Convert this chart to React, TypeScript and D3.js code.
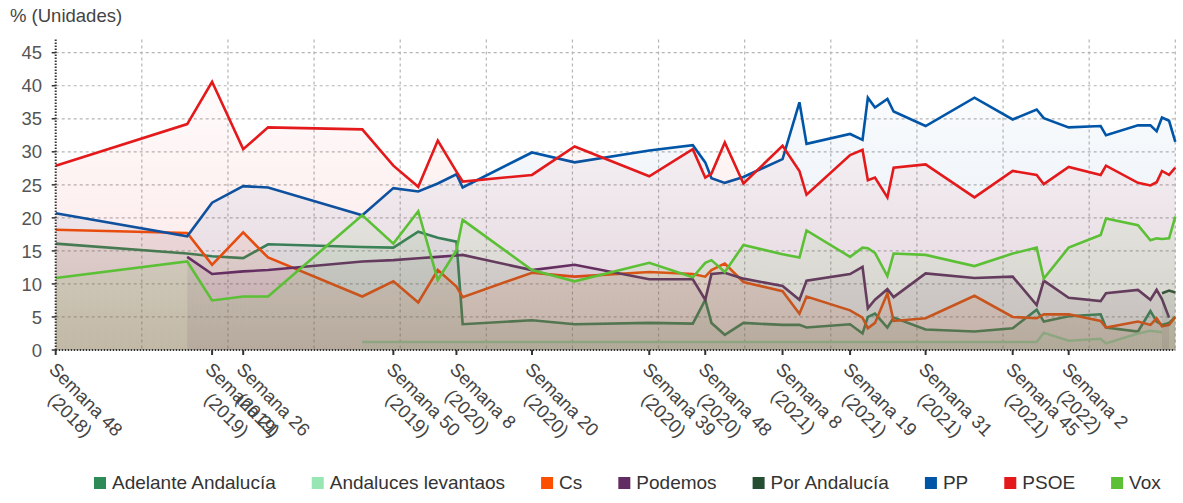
import React, { useEffect, useRef } from 'react';
import * as d3 from 'd3';

// fechas de las encuestas (una por vértice)
const fechas = [
  '2018-11-26', '2019-04-23', '2019-05-21', '2019-06-25', '2019-07-23', '2019-11-06',
  '2019-12-11', '2020-01-08', '2020-01-30', '2020-02-20', '2020-02-27', '2020-05-15',
  '2020-07-02', '2020-09-24', '2020-11-12', '2020-11-26', '2020-12-03', '2020-12-18',
  '2021-01-08', '2021-02-21', '2021-03-12', '2021-03-20', '2021-05-08', '2021-05-22',
  '2021-05-28', '2021-06-05', '2021-06-19', '2021-06-26', '2021-08-01', '2021-09-25',
  '2021-11-07', '2021-12-04', '2021-12-12', '2022-01-09', '2022-02-14', '2022-02-20',
  '2022-03-28', '2022-04-11', '2022-04-18', '2022-04-24', '2022-05-02', '2022-05-09',
];

const adelanteAndalucia = [
  16.1, 14.6, 14.2, 13.9, 16.0, 15.6, 15.5, 17.9, 17.0, 16.4,
  3.9, 4.5, 3.9, 4.1, 4.0, 7.6, 4.1, 2.3, 4.1, 3.8,
  3.8, 3.4, 3.9, 2.5, 5.0, 5.5, 3.4, 4.9, 3.1, 2.8,
  3.3, 6.1, 4.3, 5.1, 5.4, 3.4, 2.8, 5.9, 4.3, 3.8,
  4.1, 5.0,
];
const andalucesLevantaos = [
  null, null, null, null, null, 1.2, 1.2, 1.2, 1.2, 1.2,
  1.2, 1.2, 1.2, 1.2, 1.2, 1.2, 1.2, 1.2, 1.2, 1.2,
  1.2, 1.2, 1.2, 1.2, 1.2, 1.2, 1.2, 1.2, 1.2, 1.2,
  1.2, 1.2, 2.6, 1.4, 1.7, 1.0, 2.5, 2.9, 2.8, 2.7,
  null, null,
];
const cs = [
  18.2, 17.7, 12.9, 17.8, 14.0, 8.1, 10.4, 7.2, 12.1, 9.6,
  8.0, 11.7, 11.1, 11.8, 11.5, 11.1, 12.1, 13.1, 10.3, 8.9,
  5.5, 8.1, 6.0, 4.9, 3.3, 4.1, 8.6, 4.4, 4.8, 8.2,
  5.0, 4.8, 5.4, 5.4, 4.4, 3.4, 4.3, 3.8, 4.8, 3.6,
  3.8, 5.0,
];
const podemos = [
  null, 14.1, 11.5, 11.9, 12.1, 13.4, 13.6, 13.9, 14.1, 14.3,
  14.4, 12.1, 12.9, 10.7, 10.7, 7.6, 11.5, 11.7, 10.8, 9.7,
  7.6, 10.5, 11.5, 12.6, 6.3, 7.6, 9.2, 8.0, 11.6, 10.9,
  11.1, 6.8, 10.5, 7.9, 7.4, 8.6, 9.1, 7.6, 9.1, 7.7,
  4.9, null,
];
const porAndalucia = [
  null, null, null, null, null, null, null, null, null, null,
  null, null, null, null, null, null, null, null, null, null,
  null, null, null, null, null, null, null, null, null, null,
  null, null, null, null, null, null, null, null, null, 8.6,
  9.0, 8.7,
];
const pp = [
  20.7, 17.2, 22.3, 24.8, 24.6, 20.4, 24.5, 24.0, 25.2, 26.6,
  24.6, 29.9, 28.4, 30.2, 31.0, 28.4, 26.0, 25.3, 26.2, 28.9,
  37.5, 31.2, 32.7, 31.8, 38.2, 36.7, 38.0, 36.1, 33.9, 38.2,
  34.9, 36.4, 35.1, 33.7, 33.9, 32.5, 34.0, 34.0, 33.1, 35.2,
  34.7, 31.5,
];
const psoe = [
  27.9, 34.2, 40.6, 30.4, 33.7, 33.4, 27.9, 24.7, 31.7, 27.0,
  25.5, 26.5, 30.8, 26.3, 30.4, 26.1, 26.7, 31.4, 25.2, 30.9,
  27.1, 23.5, 29.5, 30.3, 25.7, 26.1, 23.1, 27.6, 28.1, 23.1,
  27.1, 26.5, 25.1, 27.7, 26.5, 27.9, 25.3, 24.9, 25.4, 27.1,
  26.5, 27.6,
];
const vox = [
  10.9, 13.4, 7.5, 8.1, 8.1, 20.4, 16.1, 21.0, 10.6, 15.1,
  19.7, 12.1, 10.4, 13.2, 11.0, 13.2, 13.6, 11.8, 15.9, 14.5,
  14.0, 18.1, 14.1, 15.5, 15.4, 14.7, 11.2, 14.6, 14.4, 12.7,
  14.6, 15.5, 10.8, 15.5, 17.4, 19.9, 18.9, 16.6, 16.9, 16.8,
  16.9, 20.2,
];

const nombres = ['Adelante Andalucía', 'Andaluces levantaos', 'Cs', 'Podemos', 'Por Andalucía', 'PP', 'PSOE', 'Vox'];
const colores = ['#2e8b57', '#98e6b3', '#fa5000', '#612d62', '#254d32', '#0055a7', '#e3191b', '#5bc035'];
const valores = [adelanteAndalucia, andalucesLevantaos, cs, podemos, porAndalucia, pp, psoe, vox];

const ticksFechas = [
  '2018-11-26', '2019-05-21', '2019-06-25', '2019-12-11', '2020-02-20', '2020-05-15', '2020-09-24',
  '2020-11-26', '2021-02-21', '2021-05-08', '2021-08-01', '2021-11-07', '2022-01-09',
];
const ticksSemana = [
  'Semana 48', 'Semana 21', 'Semana 26', 'Semana 50', 'Semana 8', 'Semana 20', 'Semana 39',
  'Semana 48', 'Semana 8', 'Semana 19', 'Semana 31', 'Semana 45', 'Semana 2',
];
const ticksAnio = [
  '(2018)', '(2019)', '(2019)', '(2019)', '(2020)', '(2020)', '(2020)',
  '(2020)', '(2021)', '(2021)', '(2021)', '(2021)', '(2022)',
];
const ticksY = [0, 5, 10, 15, 20, 25, 30, 35, 40, 45];

const W = 1183;
const H = 503;
const FONT = '"Liberation Sans", Arial, sans-serif';

type Punto = { fecha: Date; v: number | null };

const App: React.FC = () => {
  const svgRef = useRef<SVGSVGElement | null>(null);

  useEffect(() => {
    if (!svgRef.current) return;
    const svg = d3.select(svgRef.current);
    svg.selectAll('*').remove();

    const parse = d3.timeParse('%Y-%m-%d');
    const left = 55.7;
    const right = 1175.3;
    const bottom = 350;
    const top = 39.5;

    const x = d3
      .scaleTime()
      .domain([parse('2018-11-26') as Date, parse('2022-05-09') as Date])
      .range([left, right]);
    const y = d3.scaleLinear().domain([0, 47]).range([bottom, top]);

    svg.append('rect').attr('width', W).attr('height', H).attr('fill', '#fff');

    const defs = svg.append('defs');
    colores.forEach((c, i) => {
      const g = defs
        .append('linearGradient')
        .attr('id', `relleno${i}`)
        .attr('gradientUnits', 'userSpaceOnUse')
        .attr('x1', 0).attr('x2', 0)
        .attr('y1', top).attr('y2', bottom);
      g.append('stop').attr('offset', 0).attr('stop-color', c).attr('stop-opacity', 0);
      g.append('stop').attr('offset', 1).attr('stop-color', c).attr('stop-opacity', 0.12);
    });

    // rejilla
    const grid = svg.append('g');
    grid.selectAll('line.h')
      .data(ticksY.filter((t) => t > 0))
      .join('line')
      .attr('x1', left).attr('x2', right)
      .attr('y1', (d) => y(d)).attr('y2', (d) => y(d))
      .attr('stroke', '#b5b5b5').attr('stroke-width', 1.2)
      .attr('stroke-dasharray', '3,3');
    grid.selectAll('line.v')
      .data(d3.range(1, 14))
      .join('line')
      .attr('x1', (i) => left + (i * (right - left)) / 13)
      .attr('x2', (i) => left + (i * (right - left)) / 13)
      .attr('y1', top).attr('y2', bottom)
      .attr('stroke', '#b5b5b5').attr('stroke-width', 1.2)
      .attr('stroke-dasharray', '3,3');

    const area = d3
      .area<Punto>()
      .defined((d) => d.v != null)
      .x((d) => x(d.fecha))
      .y0(y(0))
      .y1((d) => y(d.v as number));
    const linea = d3
      .line<Punto>()
      .defined((d) => d.v != null)
      .x((d) => x(d.fecha))
      .y((d) => y(d.v as number));

    const capa = svg.append('g');
    valores.forEach((vals, i) => {
      const pts: Punto[] = fechas.map((f, j) => ({ fecha: parse(f) as Date, v: vals[j] }));
      capa.append('path').datum(pts).attr('d', area).attr('fill', `url(#relleno${i})`);
      capa.append('path').datum(pts).attr('d', linea)
        .attr('fill', 'none')
        .attr('stroke', colores[i])
        .attr('stroke-width', 2.6);
    });

    // ejes
    svg.append('line')
      .attr('x1', left).attr('x2', left).attr('y1', top).attr('y2', bottom + 1)
      .attr('stroke', '#333').attr('stroke-width', 2).attr('stroke-dasharray', '1.5,1.5');
    svg.append('line')
      .attr('x1', left).attr('x2', right).attr('y1', bottom).attr('y2', bottom)
      .attr('stroke', '#333').attr('stroke-width', 2).attr('stroke-dasharray', '1.5,1.5');

    const ejeY = svg.append('g');
    ejeY.selectAll('line')
      .data(ticksY)
      .join('line')
      .attr('x1', left - 4).attr('x2', left)
      .attr('y1', (d) => y(d)).attr('y2', (d) => y(d))
      .attr('stroke', '#333').attr('stroke-width', 1.5);
    ejeY.selectAll('text')
      .data(ticksY)
      .join('text')
      .attr('x', 42)
      .attr('y', (d) => y(d))
      .attr('dy', '0.36em')
      .attr('text-anchor', 'end')
      .attr('font-family', FONT)
      .attr('font-size', 18.5)
      .attr('fill', '#555')
      .text((d) => String(d));

    svg.append('text')
      .attr('x', 10).attr('y', 22)
      .attr('font-family', FONT).attr('font-size', 18.5).attr('fill', '#444')
      .text('% (Unidades)');

    const ejeX = svg.append('g');
    ticksFechas.forEach((f, i) => {
      const px = x(parse(f) as Date);
      ejeX.append('line')
        .attr('x1', px).attr('x2', px).attr('y1', bottom).attr('y2', bottom + 5)
        .attr('stroke', '#333').attr('stroke-width', 2);
      const g = ejeX.append('g').attr('transform', `translate(${px},${bottom}) rotate(45)`);
      const t1 = g.append('text')
        .attr('x', 9).attr('y', 20)
        .attr('font-family', FONT).attr('font-size', 18.5).attr('fill', '#444')
        .text(ticksSemana[i]);
      const w1 = (t1.node() as SVGTextElement).getComputedTextLength();
      g.append('text')
        .attr('x', 9 + w1 / 2).attr('y', 42)
        .attr('text-anchor', 'middle')
        .attr('font-family', FONT).attr('font-size', 18.5).attr('fill', '#444')
        .text(ticksAnio[i]);
    });

    // leyenda
    const leyenda = svg.append('g');
    let lx = 94;
    nombres.forEach((n, i) => {
      leyenda.append('rect')
        .attr('x', lx).attr('y', 477).attr('width', 12).attr('height', 12)
        .attr('fill', colores[i]);
      const t = leyenda.append('text')
        .attr('x', lx + 18).attr('y', 489)
        .attr('font-family', FONT).attr('font-size', 19).attr('fill', '#333')
        .text(n);
      lx += 18 + (t.node() as SVGTextElement).getComputedTextLength() + 36;
    });
  }, []);

  return (
    <svg
      ref={svgRef}
      width={W}
      height={H}
      style={{ position: 'absolute', left: 0, top: 0, display: 'block' }}
    />
  );
};

export default App;
